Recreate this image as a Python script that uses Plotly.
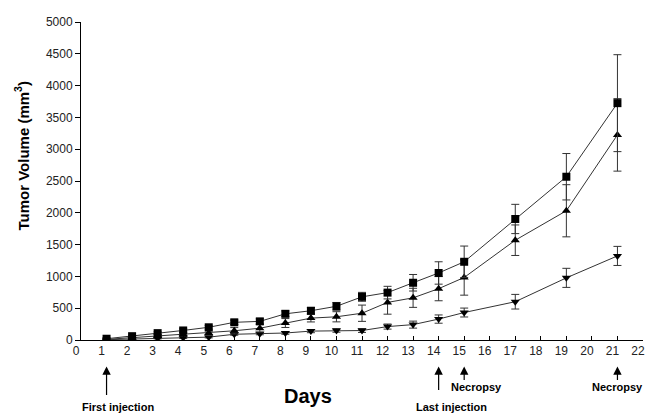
import plotly.graph_objects as go

days = [1, 2, 3, 4, 5, 6, 7, 8, 9, 10, 11, 12, 13, 14, 15, 17, 19, 21]

square_vals = [20, 60, 108, 150, 200, 278, 293, 412, 460, 530, 679, 745, 900, 1054, 1230, 1903, 2567, 3724]
square_err = [10, 15, 20, 25, 30, 35, 40, 45, 50, 60, 70, 99, 130, 176, 247, 230, 365, 762]

tri_up_vals = [10, 35, 62, 90, 110, 145, 185, 267, 344, 365, 421, 591, 663, 807, 983, 1569, 2032, 3225]
tri_up_err = [5, 10, 20, 25, 30, 50, 60, 70, 60, 80, 128, 185, 150, 190, 278, 240, 410, 570]

tri_down_vals = [5, 15, 25, 35, 45, 90, 100, 110, 140, 150, 149, 211, 242, 329, 432, 602, 977, 1322]
tri_down_err = [3, 5, 8, 10, 12, 15, 18, 20, 25, 28, 30, 40, 55, 65, 70, 115, 150, 150]

y_ticks = [0, 500, 1000, 1500, 2000, 2500, 3000, 3500, 4000, 4500, 5000]
x_ticks = list(range(0, 23))

event_days = [1, 14, 15, 21]
event_labels = ["First injection", "Last injection", "Necropsy", "Necropsy"]

# style/position of the event annotations (pixels / paper)
event_tail = [30, 25, 15, 15]
event_text_y = [-0.21, -0.21, -0.148, -0.148]
event_text_shift = [11, 13, 12, 0]

FONT = "Liberation Sans, Arial, sans-serif"

fig = go.Figure()

series = [
    (tri_down_vals, tri_down_err, "triangle-down"),
    (tri_up_vals, tri_up_err, "triangle-up"),
    (square_vals, square_err, "square"),
]
for vals, err, sym in series:
    fig.add_trace(go.Scatter(
        x=days, y=vals, mode="lines+markers",
        line=dict(color="#333333", width=1),
        marker=dict(symbol=sym, size=8, color="black"),
        error_y=dict(type="data", array=err, visible=True,
                     color="#333333", thickness=1, width=4),
        showlegend=False, hoverinfo="skip",
    ))

annotations = []
for d, lab, tail, ty, sh in zip(event_days, event_labels, event_tail, event_text_y, event_text_shift):
    annotations.append(dict(
        x=d, y=-0.083, xref="x", yref="paper", text="", showarrow=True,
        ax=0, ay=tail, arrowhead=2, arrowsize=1.4, arrowwidth=1.2,
        arrowcolor="black",
    ))
    annotations.append(dict(
        x=d, y=ty, xref="x", yref="paper", text="<b>" + lab + "</b>",
        showarrow=False, xshift=sh, xanchor="center", yanchor="middle",
        font=dict(family=FONT, size=11, color="black"),
    ))

annotations.append(dict(
    x=0.404, y=-0.175, xref="paper", yref="paper", text="<b>Days</b>",
    showarrow=False, xanchor="center", yanchor="middle",
    font=dict(family=FONT, size=20, color="black"),
))
annotations.append(dict(
    x=-0.105, y=0.58, xref="paper", yref="paper",
    text="<b>Tumor Volume (mm<sup>3</sup>)</b>", textangle=-90,
    showarrow=False, xanchor="center", yanchor="middle",
    font=dict(family=FONT, size=15, color="black"),
))

# the page body adds an 8 px margin, so the figure is sized to compensate
fig.update_layout(
    width=645, height=409,
    margin=dict(l=73, r=10, t=7, b=77),
    paper_bgcolor="white", plot_bgcolor="white",
    font=dict(family=FONT, size=12, color="#222222"),
    annotations=annotations,
    xaxis=dict(
        range=[0, 22], tickvals=x_ticks, ticktext=[str(t) for t in x_ticks],
        showline=True, linecolor="black", linewidth=1,
        ticks="inside", ticklen=4, tickcolor="black",
        ticklabelshift=-5,
        showgrid=False, zeroline=False,
        tickfont=dict(family=FONT, size=12, color="#222222"),
    ),
    yaxis=dict(
        range=[0, 5000], tickvals=y_ticks,
        showline=True, linecolor="black", linewidth=1,
        ticks="outside", ticklen=5, tickcolor="black",
        showgrid=False, zeroline=False,
        tickfont=dict(family=FONT, size=12, color="#222222"),
    ),
)

fig.write_html("out.html")
